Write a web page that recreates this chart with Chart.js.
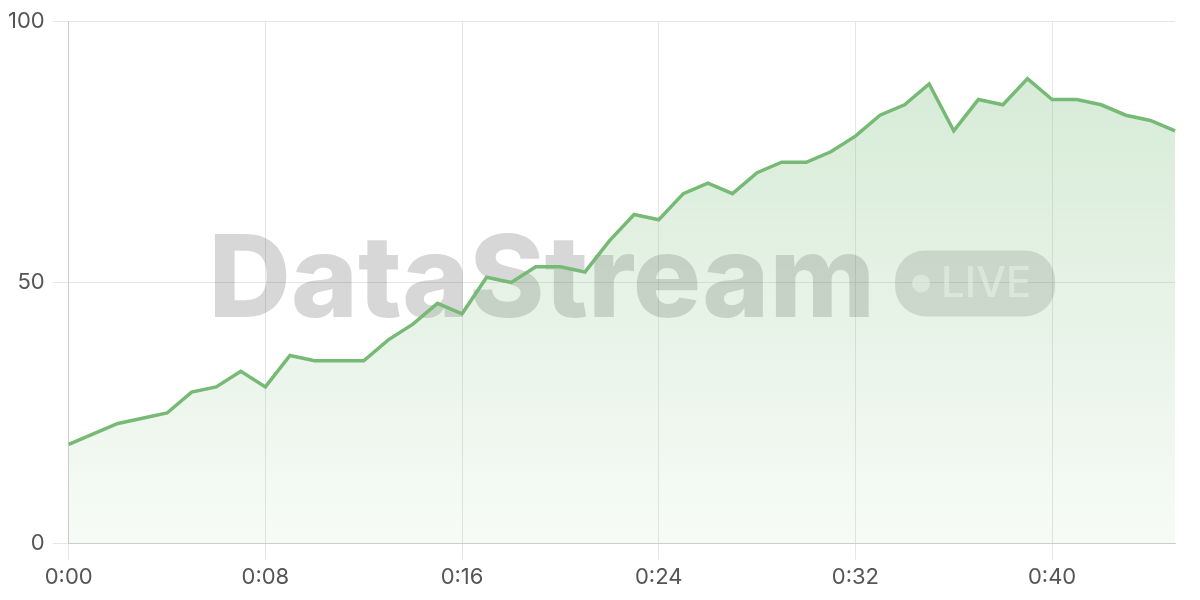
<!DOCTYPE html>
<html>
<head>
<meta charset="utf-8">
<title>DataStream live</title>
<script src="https://cdn.jsdelivr.net/npm/chart.js@4"></script>
<style>
  html, body { margin: 0; padding: 0; background: #fff; }
  #wrap { width: 1200px; height: 600px; position: relative; }
</style>
</head>
<body>
<div id="wrap"><canvas id="chart"></canvas></div>
<script>
// minute labels, one per sample
const TIME_LABELS = [
  "0:00", "0:01", "0:02", "0:03", "0:04", "0:05", "0:06", "0:07", "0:08", "0:09",
  "0:10", "0:11", "0:12", "0:13", "0:14", "0:15", "0:16", "0:17", "0:18", "0:19",
  "0:20", "0:21", "0:22", "0:23", "0:24", "0:25", "0:26", "0:27", "0:28", "0:29",
  "0:30", "0:31", "0:32", "0:33", "0:34", "0:35", "0:36", "0:37", "0:38", "0:39",
  "0:40", "0:41", "0:42", "0:43", "0:44", "0:45",
];

// stream values
const STREAM_VALUES = [
  19, 21, 23, 24, 25, 29, 30, 33, 30, 36,
  35, 35, 35, 39, 42, 46, 44, 51, 50, 53,
  53, 52, 58, 63, 62, 67, 69, 67, 71, 73,
  73, 75, 78, 82, 84, 88, 79, 85, 84, 89,
  85, 85, 84, 82, 81, 79,
];

// only every 8th minute gets a label + vertical grid line
const SHOWN_X_TICKS = ["0:00", "0:08", "0:16", "0:24", "0:32", "0:40"];
const Y_TICKS = [0, 50, 100];

const GREEN = "rgb(118, 186, 118)";
const FONT = "Inter, 'Noto Sans', sans-serif";

// watermark behind the line
const watermark = {
  id: "watermark",
  beforeDatasetsDraw(chart) {
    const { ctx, chartArea: a } = chart;
    ctx.save();
    const cy = (a.top + a.bottom) / 2;
    ctx.font = "800 114px " + FONT;
    ctx.textBaseline = "middle";
    const word = "DataStream";
    const wordW = ctx.measureText(word).width;
    const pillW = 160, pillH = 66, gap = 20;
    const total = wordW + gap + pillW;
    const x0 = (a.left + a.right) / 2 - total / 2 + 10;
    ctx.fillStyle = "rgba(0,0,0,0.155)";
    ctx.fillText(word, x0, cy);

    // LIVE pill
    const px = x0 + wordW + gap, py = cy - pillH / 2 + 1;
    ctx.beginPath();
    ctx.roundRect(px, py, pillW, pillH, 30);
    ctx.fillStyle = "rgba(0,0,0,0.13)";
    ctx.fill();
    ctx.fillStyle = "rgba(255,255,255,0.55)";
    ctx.beginPath();
    ctx.arc(px + 26, py + pillH / 2, 9, 0, Math.PI * 2);
    ctx.fill();
    ctx.font = "500 42px " + FONT;
    ctx.fillText("LIVE", px + 46, py + pillH / 2 + 1);
    ctx.restore();
  },
};

const ctx = document.getElementById("chart");
new Chart(ctx, {
  type: "line",
  data: {
    labels: TIME_LABELS,
    datasets: [{
      data: STREAM_VALUES,
      borderColor: GREEN,
      borderWidth: 3.5,
      tension: 0,
      pointRadius: 0,
      fill: "origin",
      backgroundColor: (c) => {
        const area = c.chart.chartArea;
        if (!area) return "rgba(118,186,118,0.2)";
        const g = c.chart.ctx.createLinearGradient(0, area.top, 0, area.bottom);
        g.addColorStop(0, "rgba(118,186,118,0.32)");
        g.addColorStop(1, "rgba(118,186,118,0.06)");
        return g;
      },
    }],
  },
  options: {
    responsive: true,
    maintainAspectRatio: false,
    animation: false,
    layout: { padding: { top: 8, right: 25, left: 0, bottom: 4 } },
    plugins: { legend: { display: false }, tooltip: { enabled: false } },
    scales: {
      x: {
        offset: false,
        grid: { color: "#e6e6e6", tickLength: 16, lineWidth: 1 },
        border: { color: "#cccccc" },
        ticks: {
          autoSkip: false,
          maxRotation: 0,
          padding: 5,
          color: "#555",
          font: { family: FONT, size: 22 },
          callback: function (v) {
            const lab = this.getLabelForValue(v);
            return SHOWN_X_TICKS.includes(lab) ? lab : null;
          },
        },
      },
      y: {
        min: 0,
        max: 100,
        afterBuildTicks: (axis) => { axis.ticks = Y_TICKS.map((v) => ({ value: v })); },
        grid: { color: "#e6e6e6", tickLength: 16 },
        border: { color: "#cccccc" },
        ticks: {
          padding: 8,
          color: "#555",
          font: { family: FONT, size: 22 },
        },
      },
    },
  },
  plugins: [watermark],
});
</script>
</body>
</html>
